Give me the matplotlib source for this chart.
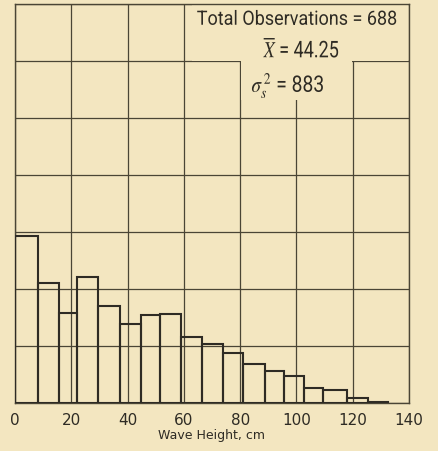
import numpy as np
import matplotlib
matplotlib.use("Agg")
import matplotlib.pyplot as plt
from matplotlib.patches import Rectangle, PathPatch
from matplotlib.textpath import TextPath
from matplotlib.font_manager import FontProperties
from matplotlib.transforms import Affine2D, ScaledTranslation

# bin edges (cm) and relative frequency per bin
bin_edges = [0, 8.1, 15.6, 21.9, 29.6, 37.3, 44.7, 51.6, 58.9, 66.5,
             74.0, 81.1, 88.8, 95.7, 102.8, 109.3, 117.9, 125.5, 132.7]
rel_freq = [0.1465, 0.105, 0.079, 0.1105, 0.085, 0.069, 0.077, 0.078, 0.0575,
            0.0515, 0.0435, 0.034, 0.0285, 0.0235, 0.0135, 0.011, 0.004, 0.001]
x_ticks = [0, 20, 40, 60, 80, 100, 120, 140]
y_grid = [0, 0.05, 0.10, 0.15, 0.20, 0.25, 0.30, 0.35]

n_obs = 688
mean_x = "44.25"
var_s = "883"

bg = "#f3e6c0"
ink = "#2e2b24"

plt.rcParams["mathtext.fontset"] = "stix"

fig = plt.figure(figsize=(4.38, 4.51), dpi=100, facecolor=bg)
ax = fig.add_axes([15 / 438, 48 / 451, 394 / 438, 399 / 451])
ax.set_facecolor(bg)

left = np.array(bin_edges[:-1])
widths = np.diff(bin_edges)
ax.bar(left, rel_freq, width=widths, align="edge", fill=False,
       edgecolor=ink, linewidth=1.5, zorder=3)

ax.set_xlim(0, 140)
ax.set_ylim(0, 0.35)
ax.set_xticks(x_ticks)
ax.set_xticklabels([str(t) for t in x_ticks], fontsize=11, color=ink)
ax.set_yticks(y_grid)
ax.set_yticklabels([])
ax.set_yticks([0, 0.35], minor=True)
ax.tick_params(axis="both", which="major", length=0, pad=7)
ax.tick_params(axis="y", which="minor", length=11, width=1.0,
               color="#4a4535", direction="out")
ax.grid(True, which="major", color="#4a4535", linewidth=0.9)
ax.set_axisbelow(True)
for s in ax.spines.values():
    s.set_color("#4a4535")
    s.set_linewidth(1.0)

ax.set_xlabel("Wave Height, cm", fontsize=9, color=ink, labelpad=1)

# blank panels behind the statistics text
ax.add_patch(Rectangle((63, 0.3), 76.8, 0.0495, facecolor=bg,
                       edgecolor="none", zorder=1.5))
ax.add_patch(Rectangle((80.4, 0.2655), 39.3, 0.038, facecolor=bg,
                       edgecolor="none", zorder=1.5))


# narrow (condensed) lettering: text path squeezed to a given box in pixels
def squeezed_text(x, y, s, w_px, h_px):
    tp = TextPath((0, 0), s, size=20, prop=FontProperties(family="Roboto"))
    bb = tp.get_extents()
    cx, cy = (bb.x0 + bb.x1) / 2, (bb.y0 + bb.y1) / 2
    tr = (Affine2D().translate(-cx, -cy).scale(w_px / bb.width, h_px / bb.height)
          + ScaledTranslation(x, y, ax.transData))
    ax.add_artist(PathPatch(tp, transform=tr, facecolor=ink, edgecolor="none",
                            zorder=4, clip_on=False))


squeezed_text(100.1, 0.3382, f"Total Observations = {n_obs}", 199, 15)
squeezed_text(101.5, 0.3116, r"$\overline{X}$" + f" = {mean_x}", 75, 19.5)
squeezed_text(96.8, 0.2785, r"$\sigma_s^{\,2}$" + f" = {var_s}", 71, 25)

fig.savefig("out.png", dpi=100, facecolor=bg)
